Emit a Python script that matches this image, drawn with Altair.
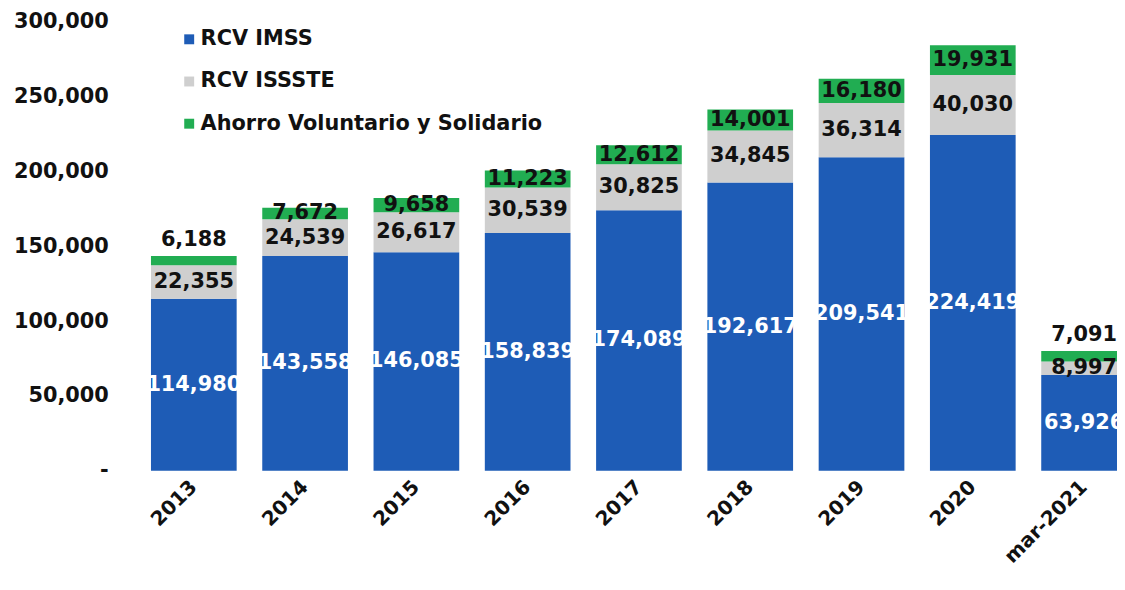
import altair as alt
import pandas as pd

years = ["2013", "2014", "2015", "2016", "2017", "2018", "2019", "2020", "mar-2021"]
imss = [114980, 143558, 146085, 158839, 174089, 192617, 209541, 224419, 63926]
issste = [22355, 24539, 26617, 30539, 30825, 34845, 36314, 40030, 8997]
ahorro = [6188, 7672, 9658, 11223, 12612, 14001, 16180, 19931, 7091]
series = ["RCV IMSS", "RCV ISSSTE", "Ahorro Voluntario y Solidario"]
colors = ["#1e5cb6", "#cfcfcf", "#21ad52"]
label_colors = ["white", "#111111", "#111111"]
outside_top = ["2013", "mar-2021"]

rows = []
for i, y in enumerate(years):
    vals = [imss[i], issste[i], ahorro[i]]
    base = 0
    for k, s in enumerate(series):
        rows.append({"year": y, "serie": s, "order": k, "value": vals[k],
                     "y0": base, "y1": base + vals[k],
                     "mid": base + vals[k] / 2, "lc": label_colors[k]})
        base += vals[k]
df = pd.DataFrame(rows)

FONT = "DejaVu Sans"

x = alt.X("year:N", sort=years, title=None,
          scale=alt.Scale(range=[0, 1009], paddingInner=0.23, paddingOuter=0.116),
          axis=alt.Axis(labelAngle=-45, labelAlign="right", labelBaseline="middle",
                        labelFont=FONT, labelFontSize=20, labelFontWeight="bold",
                        labelColor="#111111", labelPadding=13, domain=False, ticks=False,
                        labelOverlap=False))

yscale = alt.Scale(domain=[0, 300000], nice=False)

bars = alt.Chart(df).mark_bar().encode(
    x=x,
    y=alt.Y("y0:Q", scale=yscale, title=None,
            axis=alt.Axis(values=[0, 50000, 100000, 150000, 200000, 250000, 300000],
                          labelExpr="datum.value == 0 ? '-' : format(datum.value, ',')",
                          labelFont=FONT, labelFontSize=21, labelFontWeight="bold",
                          labelColor="#111111", labelPadding=30, domain=False,
                          ticks=False, grid=False)),
    y2="y1:Q",
    color=alt.Color("serie:N", sort=series,
                    scale=alt.Scale(domain=series, range=colors),
                    legend=alt.Legend(title=None, orient="none", legendX=41, legendY=7,
                                      symbolType="square", symbolSize=100,
                                      labelFont=FONT, labelFontSize=21,
                                      labelFontWeight="bold", labelColor="#111111",
                                      labelLimit=0, rowPadding=20.5, labelOffset=1,
                                      symbolStrokeWidth=0)),
    order="order:Q",
)

base_text = alt.Chart(df).mark_text(font=FONT, fontSize=21, fontWeight="bold",
                                    baseline="middle")

inner = base_text.transform_filter(
    f"datum.order < 2 || indexof({outside_top}, datum.year) < 0"
).encode(
    x=x,
    y=alt.Y("mid:Q", scale=yscale),
    text=alt.Text("value:Q", format=","),
    color=alt.Color("lc:N", scale=None),
)

top = alt.Chart(df).mark_text(font=FONT, fontSize=21, fontWeight="bold",
                              baseline="bottom", dy=-6, color="#111111").transform_filter(
    f"datum.order == 2 && indexof({outside_top}, datum.year) >= 0"
).encode(
    x=x,
    y=alt.Y("y1:Q", scale=yscale),
    text=alt.Text("value:Q", format=","),
)

chart = alt.layer(bars, inner, top).properties(
    width=986, height=452,
    background="white",
    autosize=alt.AutoSizeParams(type="none"),
    padding={"left": 131, "top": 12, "right": 0, "bottom": 100},
).configure_view(stroke="transparent", strokeWidth=0)

chart.save("out.html", embed_options={"renderer": "svg", "actions": False})
